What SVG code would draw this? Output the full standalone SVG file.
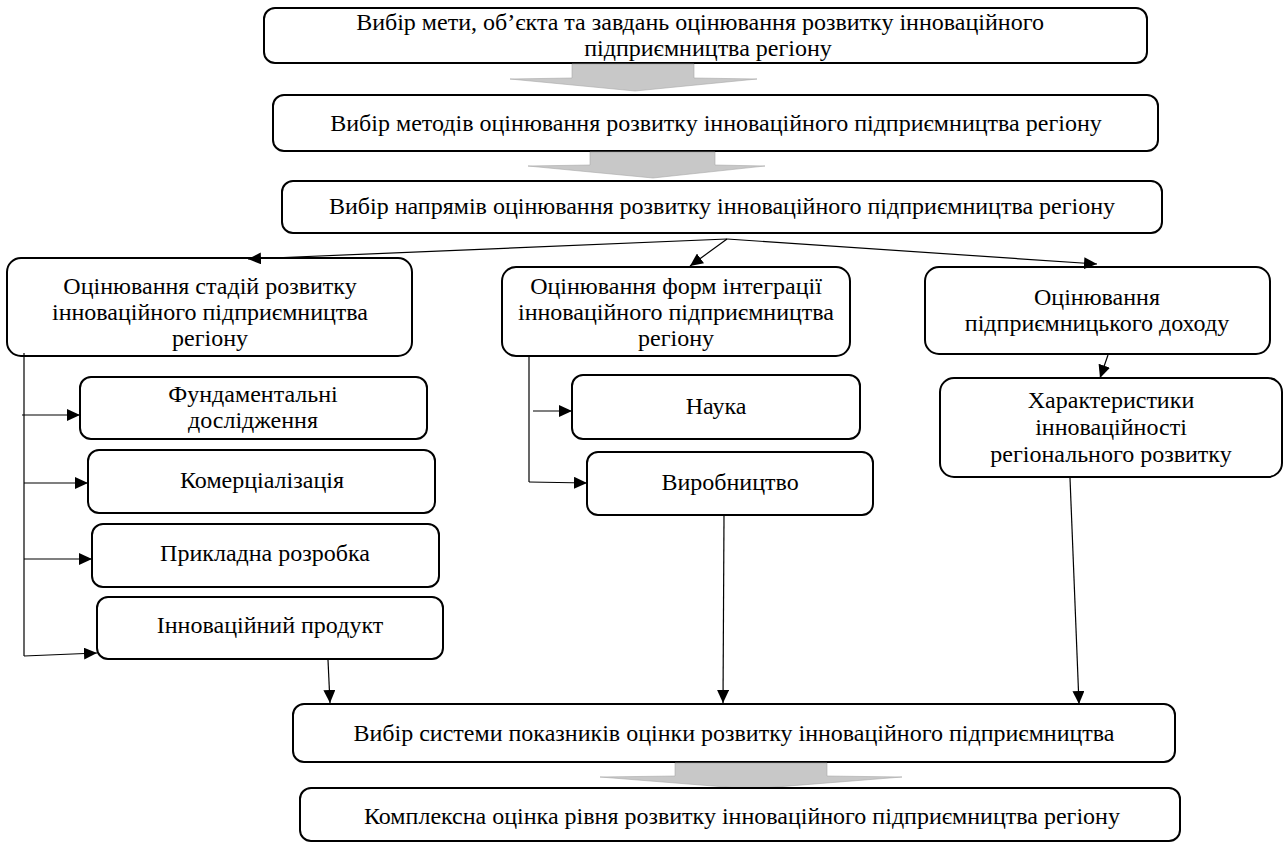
<svg xmlns="http://www.w3.org/2000/svg" width="1285" height="843" viewBox="0 0 1285 843">
<defs>
<style>
.box{fill:#fff;stroke:#000;stroke-width:2}
.c{fill:none;stroke:#000;stroke-width:1.2}
.ga{fill:#c8c8c8;stroke:#a8a8a8;stroke-width:0.6}
</style>
<marker id="ah" markerUnits="userSpaceOnUse" markerWidth="14" markerHeight="12" refX="13" refY="6" orient="auto">
<path d="M0,0 L13,6 L0,12 z" fill="#000"/>
</marker>
</defs>
<rect width="1285" height="843" fill="#fff"/>
<g font-family="Liberation Serif, serif" font-size="24" text-anchor="middle" fill="#000">
<g id="b1"><rect class="box" x="264" y="8" width="883" height="55" rx="11"/>
<text x="700" y="30">Вибір мети, об’єкта та завдань оцінювання розвитку інноваційного</text>
<text x="708" y="56">підприємництва регіону</text></g>
<g id="ga1"><polygon class="ga" points="572,64 694,64 694,78 757,79 635,91 510,79 572,78"/></g>
<g id="b2"><rect class="box" x="273" y="95" width="885" height="56" rx="11"/>
<text x="716" y="131">Вибір методів оцінювання розвитку інноваційного підприємництва регіону</text></g>
<g id="ga2"><polygon class="ga" points="590,152 715,152 715,165 765,166 653,178 528,166 590,165"/></g>
<g id="b3"><rect class="box" x="282" y="181" width="880" height="52" rx="11"/>
<text x="722" y="214">Вибір напрямів оцінювання розвитку інноваційного підприємництва регіону</text></g>
<g id="l1"><rect class="box" x="7" y="258" width="405" height="98" rx="14"/>
<text x="210" y="294">Оцінювання стадій розвитку</text>
<text x="210" y="320">інноваційного підприємництва</text>
<text x="210" y="346">регіону</text></g>
<g id="f"><rect class="box" x="80" y="377" width="347" height="62" rx="11"/>
<text x="253" y="402">Фундаментальні</text>
<text x="253" y="428">дослідження</text></g>
<g id="k"><rect class="box" x="88" y="450" width="347" height="63" rx="11"/>
<text x="262" y="488">Комерціалізація</text></g>
<g id="p"><rect class="box" x="92" y="524" width="347" height="63" rx="11"/>
<text x="265" y="561">Прикладна розробка</text></g>
<g id="i"><rect class="box" x="97" y="597" width="346" height="62" rx="11"/>
<text x="270" y="633">Інноваційний продукт</text></g>
<g id="m1"><rect class="box" x="502" y="267" width="348" height="89" rx="14"/>
<text x="676" y="294">Оцінювання форм інтеграції</text>
<text x="676" y="320">інноваційного підприємництва</text>
<text x="676" y="346">регіону</text></g>
<g id="n"><rect class="box" x="572" y="375" width="288" height="64" rx="11"/>
<text x="716" y="414">Наука</text></g>
<g id="v"><rect class="box" x="587" y="452" width="286" height="63" rx="11"/>
<text x="730" y="490">Виробництво</text></g>
<g id="r1"><rect class="box" x="925" y="267" width="345" height="87" rx="14"/>
<text x="1097" y="305">Оцінювання</text>
<text x="1097" y="331">підприємницького доходу</text></g>
<g id="x"><rect class="box" x="940" y="378" width="342" height="99" rx="14"/>
<text x="1111" y="408">Характеристики</text>
<text x="1111" y="435">інноваційності</text>
<text x="1111" y="462">регіонального розвитку</text></g>
<g id="s"><rect class="box" x="293" y="704" width="882" height="58" rx="11"/>
<text x="734" y="741">Вибір системи показників оцінки розвитку інноваційного підприємництва</text></g>
<g id="ga3"><polygon class="ga" points="675,763 827,763 827,776 902,777 751,789 600,777 675,776"/></g>
<g id="c"><rect class="box" x="300" y="788" width="880" height="53" rx="11"/>
<text x="742" y="824">Комплексна оцінка рівня розвитку інноваційного підприємництва регіону</text></g>
</g>
<g id="connectors">
<line class="c" x1="727" y1="239" x2="248" y2="259" marker-end="url(#ah)"/>
<line class="c" x1="727" y1="239" x2="690" y2="266" marker-end="url(#ah)"/>
<line class="c" x1="727" y1="239" x2="1097" y2="264" marker-end="url(#ah)"/>
<line class="c" x1="24" y1="353" x2="24" y2="656"/>
<line class="c" x1="22" y1="415" x2="80" y2="415" marker-end="url(#ah)"/>
<line class="c" x1="24" y1="483" x2="88" y2="483" marker-end="url(#ah)"/>
<line class="c" x1="24" y1="559" x2="92" y2="559" marker-end="url(#ah)"/>
<line class="c" x1="24" y1="656" x2="97" y2="653" marker-end="url(#ah)"/>
<line class="c" x1="328" y1="660" x2="330" y2="703" marker-end="url(#ah)"/>
<line class="c" x1="529" y1="356" x2="529" y2="482"/>
<line class="c" x1="533" y1="411" x2="572" y2="411" marker-end="url(#ah)"/>
<line class="c" x1="529" y1="482" x2="587" y2="483" marker-end="url(#ah)"/>
<line class="c" x1="724" y1="516" x2="723" y2="703" marker-end="url(#ah)"/>
<line class="c" x1="1108" y1="355" x2="1100" y2="378" marker-end="url(#ah)"/>
<line class="c" x1="1070" y1="478" x2="1079" y2="704" marker-end="url(#ah)"/>
</g>
</svg>
